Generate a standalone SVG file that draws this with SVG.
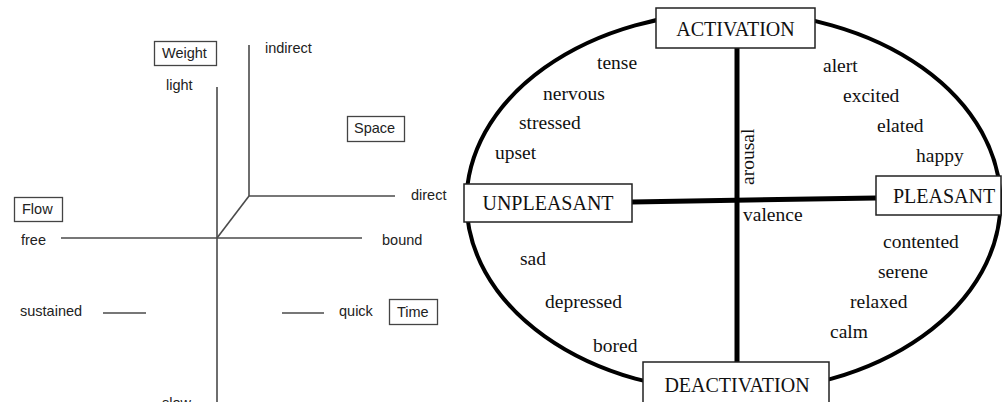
<svg xmlns="http://www.w3.org/2000/svg" width="1002" height="402" viewBox="0 0 1002 402">
<style>
.s{font-family:"Liberation Sans",Arial,sans-serif;font-size:14.5px;fill:#222}
.r{font-family:"Liberation Serif","Times New Roman",serif;font-size:19.5px;fill:#111}
.R{font-family:"Liberation Serif","Times New Roman",serif;font-size:20px;fill:#111;text-anchor:middle}
.gl{stroke:#4a4a4a;stroke-width:1.6;fill:none}
.gb{fill:#fff;stroke:#444;stroke-width:1.3}
.bb{fill:#fff;stroke:#222;stroke-width:1.5}
.tk{stroke:#000;stroke-width:5;fill:none}
</style>
<rect width="1002" height="402" fill="#fff"/>
<g id="laban-connectors">
<line class="gl" x1="217" y1="87" x2="217" y2="402"/>
<line class="gl" x1="249" y1="45" x2="249" y2="196"/>
<line class="gl" x1="249" y1="196" x2="395" y2="196"/>
<line class="gl" x1="249" y1="196" x2="217" y2="238"/>
<line class="gl" x1="61" y1="238" x2="362" y2="238"/>
<line class="gl" x1="103" y1="313" x2="146" y2="313"/>
<line class="gl" x1="282" y1="313" x2="324" y2="313"/>
</g>
<g id="weight"><rect class="gb" x="154.5" y="41.5" width="62" height="24"/><text class="s" x="162" y="58">Weight</text></g>
<g id="space"><rect class="gb" x="347.5" y="116.5" width="57" height="25"/><text class="s" x="354" y="133">Space</text></g>
<g id="flow"><rect class="gb" x="14.5" y="197.5" width="48" height="24"/><text class="s" x="22" y="214">Flow</text></g>
<g id="time"><rect class="gb" x="389.5" y="299.5" width="48" height="25"/><text class="s" x="397" y="317">Time</text></g>
<g id="laban-labels">
<text class="s" x="166" y="90">light</text>
<text class="s" x="265" y="53">indirect</text>
<text class="s" x="411" y="200">direct</text>
<text class="s" x="21" y="245">free</text>
<text class="s" x="382" y="245">bound</text>
<text class="s" x="20" y="316">sustained</text>
<text class="s" x="339" y="316">quick</text>
<text class="s" x="162" y="408">slow</text>
</g>
<g id="circumplex-connectors">
<ellipse cx="733.5" cy="202" rx="267" ry="190" fill="none" stroke="#000" stroke-width="4"/>
<line class="tk" x1="737" y1="48" x2="737" y2="362"/>
<line class="tk" x1="632" y1="202" x2="876" y2="198"/>
</g>
<g id="activation"><rect class="bb" x="656" y="8" width="159" height="40"/><text class="R" x="735.5" y="36">ACTIVATION</text></g>
<g id="deactivation"><rect class="bb" x="643" y="362" width="186" height="42"/><text class="R" x="737" y="392">DEACTIVATION</text></g>
<g id="unpleasant"><rect class="bb" x="464" y="184" width="168" height="38"/><text class="R" x="548" y="210">UNPLEASANT</text></g>
<g id="pleasant"><rect class="bb" x="876" y="176" width="125" height="39"/><text class="R" x="944" y="203">PLEASANT</text></g>
<g id="circumplex-labels">
<text class="r" x="597" y="69">tense</text>
<text class="r" x="543" y="100">nervous</text>
<text class="r" x="519" y="129">stressed</text>
<text class="r" x="495" y="159">upset</text>
<text class="r" x="823" y="72">alert</text>
<text class="r" x="843" y="102">excited</text>
<text class="r" x="877" y="132">elated</text>
<text class="r" x="916" y="162">happy</text>
<text class="r" transform="translate(754,185) rotate(-90)">arousal</text>
<text class="r" x="743" y="221">valence</text>
<text class="r" x="883" y="248">contented</text>
<text class="r" x="878" y="278">serene</text>
<text class="r" x="850" y="308">relaxed</text>
<text class="r" x="830" y="338">calm</text>
<text class="r" x="520" y="265">sad</text>
<text class="r" x="545" y="308">depressed</text>
<text class="r" x="593" y="352">bored</text>
</g>
</svg>
